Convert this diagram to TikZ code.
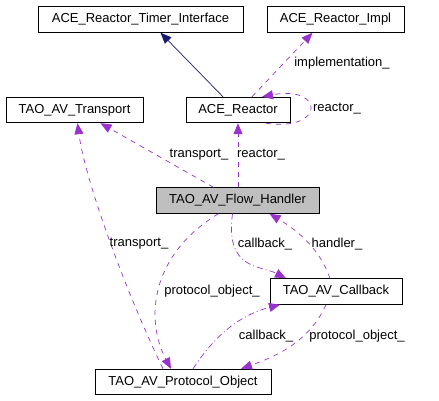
\documentclass[tikz,border=0pt]{standalone}
\usepackage{fontspec}
\setmainfont{Liberation Sans}
\usetikzlibrary{arrows.meta}
\definecolor{edgepurple}{HTML}{9A32CD}
\definecolor{edgenavy}{HTML}{191970}
\definecolor{boxgray}{HTML}{BFBFBF}
\begin{document}
\begin{tikzpicture}[x=1pt,y=-1pt,
  cls/.style={draw=black, line width=0.9pt, fill=white, inner sep=0pt, minimum height=25.5pt, font=\fontsize{13pt}{15pt}\selectfont},
  lbl/.style={inner sep=0pt, font=\fontsize{13pt}{15pt}\selectfont},
  uses/.style={-{Triangle[length=11pt,width=9pt,fill=edgepurple]}, draw=edgepurple, line width=0.7pt, dash pattern=on 5pt off 5pt},
  usesdot/.style={-{Triangle[length=11pt,width=9pt,fill=edgepurple]}, draw=edgepurple, line width=0.7pt, dash pattern=on 6pt off 3pt on 1pt off 3pt},
  inherit/.style={-{Triangle[length=11pt,width=9pt,fill=edgenavy]}, draw=edgenavy, line width=0.7pt}]
\useasboundingbox (0,0) rectangle (439,400);

\node[cls, minimum width=205pt] (ti) at (140.5,19.5) {ACE\_Reactor\_Timer\_Interface};
\node[cls, minimum width=137pt] (im) at (335.5,19.5) {ACE\_Reactor\_Impl};
\node[cls, minimum width=137pt] (tr) at (74.5,110) {TAO\_AV\_Transport};
\node[cls, minimum width=104pt] (ar) at (238,110) {ACE\_Reactor};
\node[cls, minimum width=163pt, fill=boxgray] (fh) at (237.5,200.5) {TAO\_AV\_Flow\_Handler};
\node[cls, minimum width=132pt] (cb) at (336,291.5) {TAO\_AV\_Callback};
\node[cls, minimum width=176pt] (po) at (183,382) {TAO\_AV\_Protocol\_Object};

% edges
\draw[inherit] ([xshift=-15pt]ar.north) -- ([xshift=20pt]ti.south);
\draw[uses] ([xshift=14pt]ar.north) -- ([xshift=-23pt]im.south);
\draw[uses] ([xshift=28pt]ar.south) .. controls (325,132) and (325,85) .. ([xshift=24pt]ar.north);
\draw[uses] ([xshift=0.5pt]fh.north) -- (ar.south);
\draw[uses] ([xshift=-24pt]fh.north) -- ([xshift=26pt]tr.south);
\draw[uses] ([xshift=-20pt]po.north) .. controls (125,290) and (85,180) .. ([xshift=3pt]tr.south);
\draw[uses] ([xshift=-19pt]fh.south) .. controls (150,255) and (145,320) .. ([xshift=-12pt]po.north);
\draw[usesdot] ([xshift=-5pt]fh.south) .. controls (225,270) and (260,265) .. ([xshift=-50pt]cb.north);
\draw[uses] ([xshift=-6pt]cb.north) .. controls (320,250) and (300,232) .. ([xshift=32pt]fh.south);
\draw[usesdot] ([xshift=10pt]po.north) .. controls (215,335) and (240,315) .. ([xshift=-56pt]cb.south);
\draw[uses] ([xshift=-10pt]cb.south) .. controls (310,340) and (280,355) .. ([xshift=58pt]po.north);

% labels
\node[lbl] (l1) at (342,63) {implementation\_};
\node[lbl] (l2) at (337,109) {reactor\_};
\node[lbl] (l3) at (199,155) {transport\_};
\node[lbl] (l4) at (261,155) {reactor\_};
\node[lbl] (l5) at (139,244) {transport\_};
\node[lbl] (l6) at (265,244) {callback\_};
\node[lbl] (l7) at (337,244) {handler\_};
\node[lbl] (l8) at (212,291) {protocol\_object\_};
\node[lbl] (l9) at (266,336) {callback\_};
\node[lbl] (l10) at (357,336) {protocol\_object\_};
\end{tikzpicture}
\end{document}
